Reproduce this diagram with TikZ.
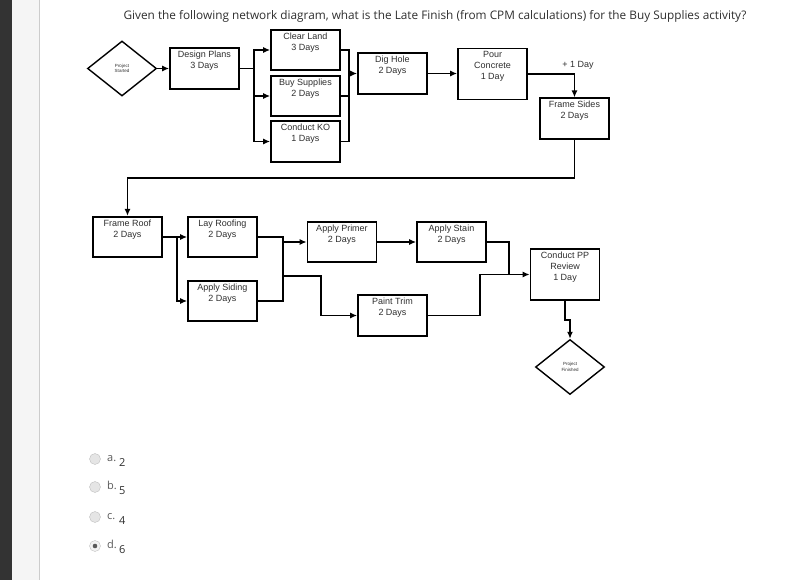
\documentclass[tikz,border=0pt]{standalone}
\usepackage{fontspec}
\setmainfont{Liberation Sans}
\newfontfamily\opensans{Open Sans}
\usetikzlibrary{shapes.geometric,arrows.meta}
\definecolor{inkgray}{HTML}{2E2E2E}
\definecolor{pagegray}{HTML}{F5F5F5}
\tikzset{
  act/.style={draw, line width=1.6pt, minimum width=69pt, inner sep=3pt, align=center,
    text depth=17pt, text=inkgray, font=\fontsize{9}{11}\selectfont},
  milestone/.style={draw, diamond, line width=1.4pt, minimum width=69pt, minimum height=55pt,
    inner sep=0pt, align=center, text=inkgray, font=\fontsize{4.5}{5.5}\selectfont},
  conn/.style={line width=1.9pt},
  arr/.style={conn, -{Latex[length=7pt,width=6pt]}},
  radio/.style={circle, draw=black!25, fill=black!10, minimum size=11pt, inner sep=0pt},
  answer/.style={anchor=base west, inner sep=0pt, text=black!65, font=\opensans\fontsize{11}{13}\selectfont}
}
\begin{document}
\begin{tikzpicture}[x=1pt,y=-1pt]
\useasboundingbox (0,0) rectangle (800,580);
\fill[black!80] (0,0) rectangle (12,580);
\fill[pagegray] (12,0) rectangle (39,580);
\draw[black!20] (39,0) -- (39,580);

\node[text=inkgray, font=\opensans\fontsize{11.8}{13}\selectfont] (question) at (435,16)
  {Given the following network diagram, what is the Late Finish (from CPM calculations) for the Buy Supplies activity?};

\node[milestone] (start) at (122,68.5) {Project\\Started};
\node[act] (design) at (204.5,68.5) {Design Plans\\3 Days};
\node[act] (clear) at (305.5,50) {Clear Land\\3 Days};
\node[act] (buy) at (305.5,96) {Buy Supplies\\2 Days};
\node[act] (ko) at (305.5,141.5) {Conduct KO\\1 Days};
\node[act] (dig) at (392.5,73.5) {Dig Hole\\2 Days};
\node[act] (pour) at (492.5,74) {Pour\\Concrete\\1 Day};
\node[act] (sides) at (574.5,118.5) {Frame Sides\\2 Days};
\node[text=inkgray, font=\fontsize{9}{11}\selectfont] (lag) at (578,65) {+ 1 Day};

\node[act] (roof) at (127.5,237) {Frame Roof\\2 Days};
\node[act] (lay) at (222.5,237) {Lay Roofing\\2 Days};
\node[act] (siding) at (222.5,301) {Apply Siding\\2 Days};
\node[act] (primer) at (342,242) {Apply Primer\\2 Days};
\node[act] (stain) at (451.5,242) {Apply Stain\\2 Days};
\node[act] (trim) at (392.5,315.5) {Paint Trim\\2 Days};
\node[act] (review) at (565,274.5) {Conduct PP\\Review\\1 Day};
\node[milestone] (finish) at (570,367) {Project\\Finished};

\draw[arr] (start) -- (design);
\draw[conn] (design.east) -- ++(14,0) coordinate (dsplit);
\draw[arr] (dsplit) |- (clear.west);
\draw[arr] (dsplit) |- (buy.west);
\draw[arr] (dsplit) |- (ko.west);
\coordinate (djoin) at (349,73.5);
\draw[conn] (clear.east) -| (djoin);
\draw[conn] (buy.east) -| (djoin);
\draw[conn] (ko.east) -| (djoin);
\draw[arr] (djoin) -- (dig.west);
\draw[arr] (dig.east) -- (pour.west |- dig.east);
\draw[arr] (pour.east) -| (sides.north);
\coordinate (wrap) at (127.5,178);
\draw[arr] (sides.south) |- (wrap) -- (roof.north);

\draw[conn] (roof.east) -- ++(14,0) coordinate (rsplit);
\draw[arr] (rsplit) -- (lay.west);
\draw[arr] (rsplit) |- (siding.west);
\coordinate (rjoin) at (283,242);
\draw[conn] (lay.east) -| (rjoin);
\draw[conn] (siding.east) -| (rjoin);
\draw[arr] (rjoin) -- (primer.west);
\coordinate (tsplit) at (283,276);
\draw[arr] (tsplit) -- ++(38,0) |- (trim.west);
\draw[arr] (primer) -- (stain);
\coordinate (pjoin) at (509,274.5);
\draw[conn] (stain.east) -| (pjoin);
\draw[conn] (trim.east) -- ++(52,0) |- (pjoin);
\draw[arr] (pjoin) -- (review.west);
\draw[arr] (review.south) -- ++(0,19) -| (finish.north);

\node[radio] (ra) at (95,459) {};
\node[answer] (la) at (107,461) {a.};
\node[answer, text=inkgray] (va) at (119,466) {2};
\node[radio] (rb) at (95,487) {};
\node[answer] (lb) at (107,489) {b.};
\node[answer, text=inkgray] (vb) at (119,494) {5};
\node[radio] (rc) at (95,517) {};
\node[answer] (lc) at (107,519) {c.};
\node[answer, text=inkgray] (vc) at (119,524) {4};
\node[radio, fill=black!5] (rd) at (95,546) {};
\fill[black!65] (rd) circle (2.3);
\node[answer] (ld) at (107,548) {d.};
\node[answer, text=inkgray] (vd) at (119,553) {6};
\end{tikzpicture}
\end{document}
